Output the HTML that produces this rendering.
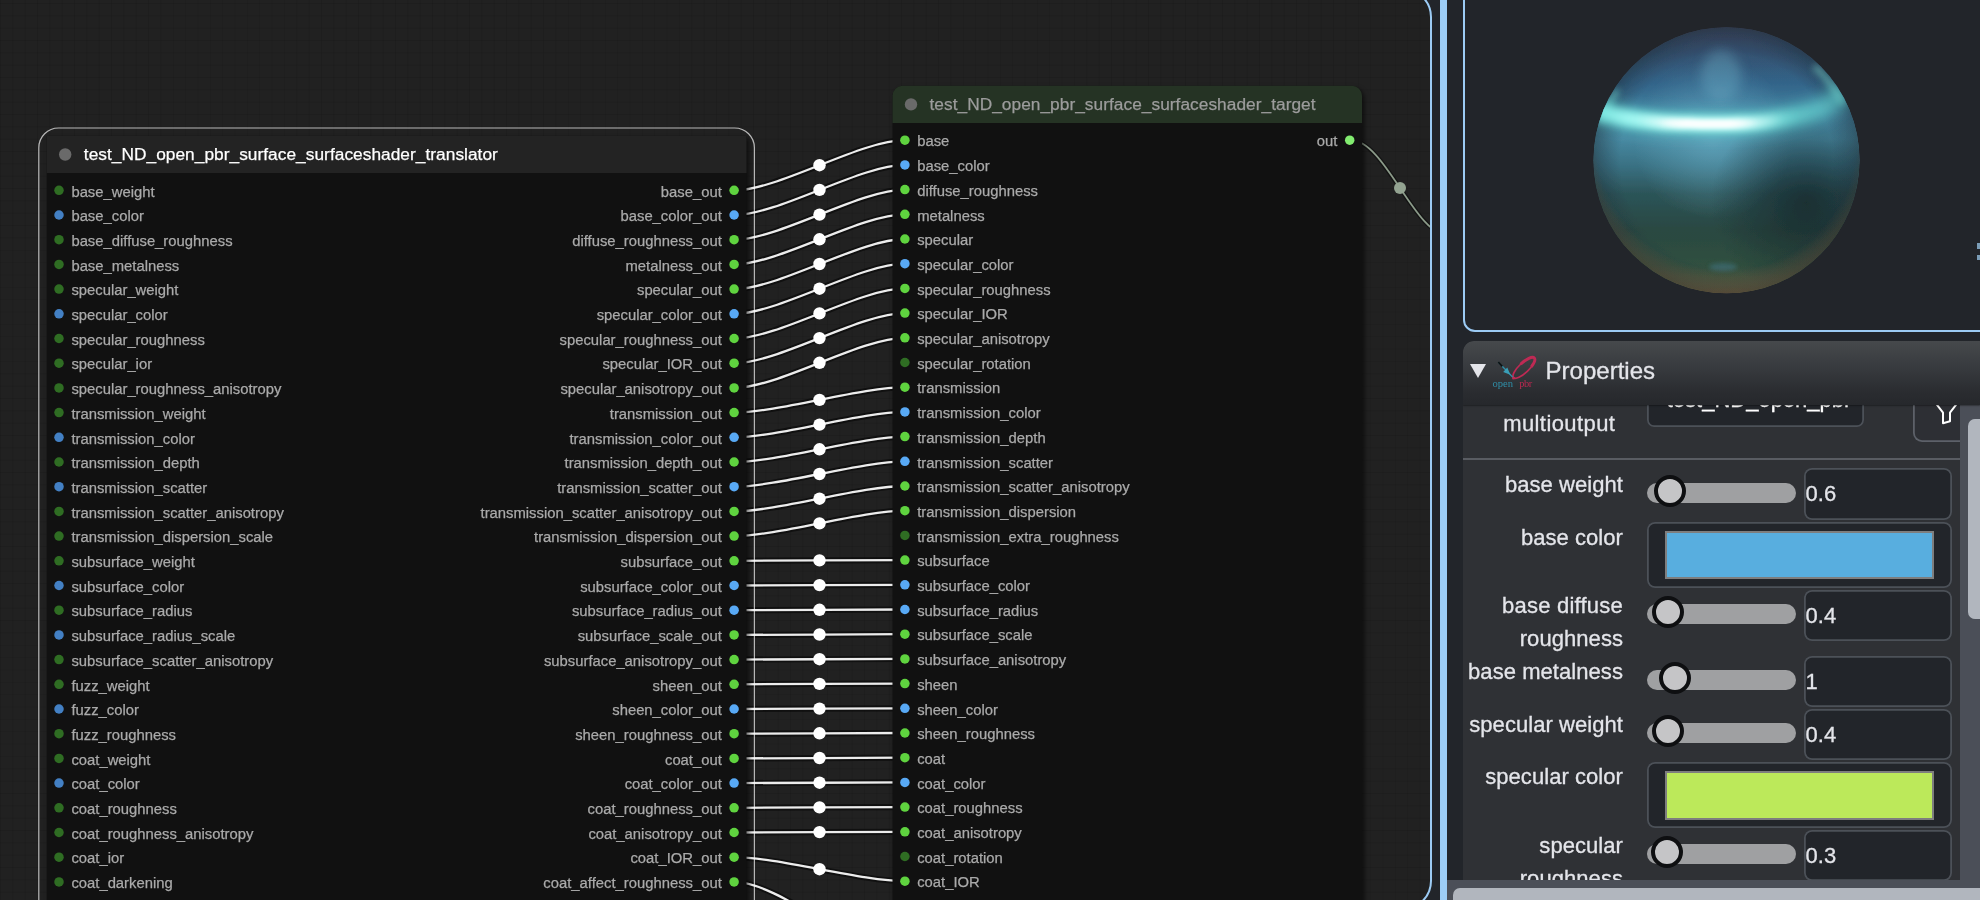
<!DOCTYPE html>
<html>
<head>
<meta charset="utf-8">
<title>Node graph</title>
<style>
html,body{margin:0;padding:0;}
body{width:1980px;height:900px;overflow:hidden;background:#22252a;font-family:"Liberation Sans",sans-serif;position:relative;color:#e4e5ea;}
*{box-sizing:border-box;}
#canvasPanel{position:absolute;left:-200px;top:-12px;width:1632px;height:922px;border:2px solid #9ccbf4;border-radius:29px;background:#212121;overflow:hidden;}
#grid{position:absolute;left:0;top:0;right:0;bottom:0;
 background-image:linear-gradient(to right,rgba(0,0,0,.085) 1px,transparent 1px),linear-gradient(to bottom,rgba(0,0,0,.085) 1px,transparent 1px);
 background-size:12.35px 12.35px;background-position:0.5px 0.6px;}
#graph{position:absolute;left:198px;top:10px;filter:blur(.55px);width:1432px;height:900px;font-family:"Liberation Sans",sans-serif;}
#splitter{position:absolute;left:1440px;top:0;width:7px;height:900px;background:#9ccdf6;}
#preview{position:absolute;left:1463px;top:-20px;width:600px;height:352px;border:2px solid #9ccbf4;border-radius:12px;background:#22252a;}
#props{-webkit-text-stroke:.3px;will-change:transform;position:absolute;left:1463px;top:341px;width:517px;height:539px;background:#2f3135;border-radius:11px 0 0 0;overflow:hidden;}
#phead{position:absolute;left:0;top:0;width:100%;height:63.6px;background:linear-gradient(#46494c,#383b3f 40%,#2a2c30 80%,#26282c);z-index:3;border-radius:11px 0 0 0;box-shadow:0 0.5px 1.5px rgba(0,0,0,.35);}
#phead .tri{position:absolute;left:7.2px;top:23.2px;width:0;height:0;border-left:8px solid transparent;border-right:8px solid transparent;border-top:14px solid #e4e5ea;}
#phead .ttl{position:absolute;left:82.6px;top:15.8px;font-size:24px;line-height:28px;color:#e4e5ea;letter-spacing:0px;}
#pbody{position:absolute;left:0;top:62px;width:497px;height:477px;overflow:hidden;}
#vscroll{position:absolute;left:497px;top:62px;width:20px;height:477px;background:#4b4f58;}
#vscroll i{position:absolute;left:8px;top:16px;width:20px;height:200px;border-radius:7px;background:#b1b6be;}
#hscroll{position:absolute;left:1447px;top:880px;width:533px;height:20px;background:#4b4f58;}
#hscroll i{position:absolute;left:6px;top:8px;width:600px;height:20px;border-radius:7px;background:#b1b6be;}
.lab{position:absolute;right:337px;text-align:right;font-size:22px;line-height:33px;color:#e4e5ea;white-space:nowrap;letter-spacing:.06px;}
.num{position:absolute;left:341px;width:147.7px;height:51.3px;box-shadow:inset 0 0 0 1.8px #4c5158;border-radius:8px;background:#22252a;font-size:22px;line-height:52.4px;padding-left:1.6px;color:#e4e5ea;}
.trk{position:absolute;left:183.5px;width:149.5px;height:20px;border-radius:10px;background:#9fa0a2;}
.thm{position:absolute;width:32px;height:32px;border-radius:50%;background:#c5c5c7;border:4.3px solid #0e0f11;}
.cbox{position:absolute;left:184px;width:304.7px;height:66.2px;box-shadow:inset 0 0 0 1.8px #4c5158;border-radius:8px;background:#22252a;}
.cbox i{position:absolute;left:17.8px;top:9.2px;width:269.7px;height:48.3px;background:#7e7e7e;}
.cbox b{position:absolute;left:2px;top:2px;right:2px;bottom:2px;}
</style>
</head>
<body>
<div id="canvasPanel">
 <div id="grid"></div>
 <svg id="graph" viewBox="0 0 1432 900">
  <defs>
   <filter id="sh" x="-5%" y="-5%" width="110%" height="110%" color-interpolation-filters="sRGB"><feDropShadow dx="2.5" dy="2.5" stdDeviation="2.2" flood-color="#000" flood-opacity=".55"/></filter>
  </defs>
<g fill="none" stroke-linecap="butt">
<path d="M734.1 190.3C778.6 190.3 860.4 140.2 904.9 140.2M734.1 215.0C778.6 215.0 860.4 164.9 904.9 164.9M734.1 239.7C778.6 239.7 860.4 189.6 904.9 189.6M734.1 264.4C778.6 264.4 860.4 214.3 904.9 214.3M734.1 289.1C778.6 289.1 860.4 239.0 904.9 239.0M734.1 313.8C778.6 313.8 860.4 263.7 904.9 263.7M734.1 338.5C778.6 338.5 860.4 288.4 904.9 288.4M734.1 363.2C778.6 363.2 860.4 313.1 904.9 313.1M734.1 387.9C778.6 387.9 860.4 337.8 904.9 337.8M734.1 412.6C777.3 412.6 861.7 387.2 904.9 387.2M734.1 437.3C777.3 437.3 861.7 411.9 904.9 411.9M734.1 462.0C777.3 462.0 861.7 436.6 904.9 436.6M734.1 486.7C777.3 486.7 861.7 461.3 904.9 461.3M734.1 511.4C777.3 511.4 861.7 486.0 904.9 486.0M734.1 536.1C777.3 536.1 861.7 510.7 904.9 510.7M734.1 560.8C776.8 560.8 862.2 560.1 904.9 560.1M734.1 585.5C776.8 585.5 862.2 584.8 904.9 584.8M734.1 610.2C776.8 610.2 862.2 609.5 904.9 609.5M734.1 634.9C776.8 634.9 862.2 634.2 904.9 634.2M734.1 659.6C776.8 659.6 862.2 658.9 904.9 658.9M734.1 684.3C776.8 684.3 862.2 683.6 904.9 683.6M734.1 709.0C776.8 709.0 862.2 708.3 904.9 708.3M734.1 733.7C776.8 733.7 862.2 733.0 904.9 733.0M734.1 758.4C776.8 758.4 862.2 757.7 904.9 757.7M734.1 783.1C776.8 783.1 862.2 782.4 904.9 782.4M734.1 807.8C776.8 807.8 862.2 807.1 904.9 807.1M734.1 832.5C776.8 832.5 862.2 831.8 904.9 831.8M734.1 857.2C777.2 857.2 861.8 881.2 904.9 881.2M734.1 881.9C780.6 881.9 858.4 955.3 904.9 955.3" stroke="#000" stroke-opacity=".5" stroke-width="6.2"/>
<path d="M734.1 190.3C778.6 190.3 860.4 140.2 904.9 140.2M734.1 215.0C778.6 215.0 860.4 164.9 904.9 164.9M734.1 239.7C778.6 239.7 860.4 189.6 904.9 189.6M734.1 264.4C778.6 264.4 860.4 214.3 904.9 214.3M734.1 289.1C778.6 289.1 860.4 239.0 904.9 239.0M734.1 313.8C778.6 313.8 860.4 263.7 904.9 263.7M734.1 338.5C778.6 338.5 860.4 288.4 904.9 288.4M734.1 363.2C778.6 363.2 860.4 313.1 904.9 313.1M734.1 387.9C778.6 387.9 860.4 337.8 904.9 337.8M734.1 412.6C777.3 412.6 861.7 387.2 904.9 387.2M734.1 437.3C777.3 437.3 861.7 411.9 904.9 411.9M734.1 462.0C777.3 462.0 861.7 436.6 904.9 436.6M734.1 486.7C777.3 486.7 861.7 461.3 904.9 461.3M734.1 511.4C777.3 511.4 861.7 486.0 904.9 486.0M734.1 536.1C777.3 536.1 861.7 510.7 904.9 510.7M734.1 560.8C776.8 560.8 862.2 560.1 904.9 560.1M734.1 585.5C776.8 585.5 862.2 584.8 904.9 584.8M734.1 610.2C776.8 610.2 862.2 609.5 904.9 609.5M734.1 634.9C776.8 634.9 862.2 634.2 904.9 634.2M734.1 659.6C776.8 659.6 862.2 658.9 904.9 658.9M734.1 684.3C776.8 684.3 862.2 683.6 904.9 683.6M734.1 709.0C776.8 709.0 862.2 708.3 904.9 708.3M734.1 733.7C776.8 733.7 862.2 733.0 904.9 733.0M734.1 758.4C776.8 758.4 862.2 757.7 904.9 757.7M734.1 783.1C776.8 783.1 862.2 782.4 904.9 782.4M734.1 807.8C776.8 807.8 862.2 807.1 904.9 807.1M734.1 832.5C776.8 832.5 862.2 831.8 904.9 831.8M734.1 857.2C777.2 857.2 861.8 881.2 904.9 881.2M734.1 881.9C780.6 881.9 858.4 955.3 904.9 955.3" stroke="#ececec" stroke-width="2.3"/>
</g>
<circle cx="819.5" cy="165.2" r="6.2" fill="#fff"/>
<circle cx="819.5" cy="189.9" r="6.2" fill="#fff"/>
<circle cx="819.5" cy="214.6" r="6.2" fill="#fff"/>
<circle cx="819.5" cy="239.3" r="6.2" fill="#fff"/>
<circle cx="819.5" cy="264.0" r="6.2" fill="#fff"/>
<circle cx="819.5" cy="288.7" r="6.2" fill="#fff"/>
<circle cx="819.5" cy="313.4" r="6.2" fill="#fff"/>
<circle cx="819.5" cy="338.1" r="6.2" fill="#fff"/>
<circle cx="819.5" cy="362.8" r="6.2" fill="#fff"/>
<circle cx="819.5" cy="399.9" r="6.2" fill="#fff"/>
<circle cx="819.5" cy="424.6" r="6.2" fill="#fff"/>
<circle cx="819.5" cy="449.3" r="6.2" fill="#fff"/>
<circle cx="819.5" cy="474.0" r="6.2" fill="#fff"/>
<circle cx="819.5" cy="498.7" r="6.2" fill="#fff"/>
<circle cx="819.5" cy="523.4" r="6.2" fill="#fff"/>
<circle cx="819.5" cy="560.4" r="6.2" fill="#fff"/>
<circle cx="819.5" cy="585.1" r="6.2" fill="#fff"/>
<circle cx="819.5" cy="609.8" r="6.2" fill="#fff"/>
<circle cx="819.5" cy="634.5" r="6.2" fill="#fff"/>
<circle cx="819.5" cy="659.2" r="6.2" fill="#fff"/>
<circle cx="819.5" cy="683.9" r="6.2" fill="#fff"/>
<circle cx="819.5" cy="708.6" r="6.2" fill="#fff"/>
<circle cx="819.5" cy="733.3" r="6.2" fill="#fff"/>
<circle cx="819.5" cy="758.0" r="6.2" fill="#fff"/>
<circle cx="819.5" cy="782.7" r="6.2" fill="#fff"/>
<circle cx="819.5" cy="807.4" r="6.2" fill="#fff"/>
<circle cx="819.5" cy="832.1" r="6.2" fill="#fff"/>
<circle cx="819.5" cy="869.2" r="6.2" fill="#fff"/>
<circle cx="819.5" cy="918.6" r="6.2" fill="#fff"/>
<path d="M1350.9 140.2C1385.2 140.2 1414.8 235.8 1449.1 235.8" fill="none" stroke="#000" stroke-opacity=".4" stroke-width="4.5"/>
<path d="M1350.9 140.2C1385.2 140.2 1414.8 235.8 1449.1 235.8" fill="none" stroke="#8b9a89" stroke-width="1.7"/>
<circle cx="1400" cy="188" r="6" fill="#93a391"/>
<g filter="url(#sh)">
<rect x="46.7" y="135.95" width="699.8" height="1000" fill="#111"/>
</g>
<rect x="46.7" y="135.95" width="699.8" height="37.05" fill="#232323"/>
<circle cx="65.2" cy="154.5" r="6.2" fill="#6a6a6a"/>
<text x="83.8" y="159.8" font-size="17.29" fill="#fff" stroke="#fff" stroke-width=".25" letter-spacing=".04">test_ND_open_pbr_surface_surfaceshader_translator</text>
<circle cx="59.0" cy="190.3" r="4.75" fill="#2f6d23"/>
<text x="71.4" y="196.5" font-size="14.82" fill="#aaa" stroke="#aaa" stroke-width=".25">base_weight</text>
<circle cx="59.0" cy="215.0" r="4.75" fill="#4380c4"/>
<text x="71.4" y="221.2" font-size="14.82" fill="#aaa" stroke="#aaa" stroke-width=".25">base_color</text>
<circle cx="59.0" cy="239.7" r="4.75" fill="#2f6d23"/>
<text x="71.4" y="245.9" font-size="14.82" fill="#aaa" stroke="#aaa" stroke-width=".25">base_diffuse_roughness</text>
<circle cx="59.0" cy="264.4" r="4.75" fill="#2f6d23"/>
<text x="71.4" y="270.6" font-size="14.82" fill="#aaa" stroke="#aaa" stroke-width=".25">base_metalness</text>
<circle cx="59.0" cy="289.1" r="4.75" fill="#2f6d23"/>
<text x="71.4" y="295.3" font-size="14.82" fill="#aaa" stroke="#aaa" stroke-width=".25">specular_weight</text>
<circle cx="59.0" cy="313.8" r="4.75" fill="#4380c4"/>
<text x="71.4" y="320.0" font-size="14.82" fill="#aaa" stroke="#aaa" stroke-width=".25">specular_color</text>
<circle cx="59.0" cy="338.5" r="4.75" fill="#2f6d23"/>
<text x="71.4" y="344.7" font-size="14.82" fill="#aaa" stroke="#aaa" stroke-width=".25">specular_roughness</text>
<circle cx="59.0" cy="363.2" r="4.75" fill="#2f6d23"/>
<text x="71.4" y="369.4" font-size="14.82" fill="#aaa" stroke="#aaa" stroke-width=".25">specular_ior</text>
<circle cx="59.0" cy="387.9" r="4.75" fill="#2f6d23"/>
<text x="71.4" y="394.1" font-size="14.82" fill="#aaa" stroke="#aaa" stroke-width=".25">specular_roughness_anisotropy</text>
<circle cx="59.0" cy="412.6" r="4.75" fill="#2f6d23"/>
<text x="71.4" y="418.8" font-size="14.82" fill="#aaa" stroke="#aaa" stroke-width=".25">transmission_weight</text>
<circle cx="59.0" cy="437.3" r="4.75" fill="#4380c4"/>
<text x="71.4" y="443.5" font-size="14.82" fill="#aaa" stroke="#aaa" stroke-width=".25">transmission_color</text>
<circle cx="59.0" cy="462.0" r="4.75" fill="#2f6d23"/>
<text x="71.4" y="468.2" font-size="14.82" fill="#aaa" stroke="#aaa" stroke-width=".25">transmission_depth</text>
<circle cx="59.0" cy="486.7" r="4.75" fill="#4380c4"/>
<text x="71.4" y="492.9" font-size="14.82" fill="#aaa" stroke="#aaa" stroke-width=".25">transmission_scatter</text>
<circle cx="59.0" cy="511.4" r="4.75" fill="#2f6d23"/>
<text x="71.4" y="517.6" font-size="14.82" fill="#aaa" stroke="#aaa" stroke-width=".25">transmission_scatter_anisotropy</text>
<circle cx="59.0" cy="536.1" r="4.75" fill="#2f6d23"/>
<text x="71.4" y="542.3" font-size="14.82" fill="#aaa" stroke="#aaa" stroke-width=".25">transmission_dispersion_scale</text>
<circle cx="59.0" cy="560.8" r="4.75" fill="#2f6d23"/>
<text x="71.4" y="567.0" font-size="14.82" fill="#aaa" stroke="#aaa" stroke-width=".25">subsurface_weight</text>
<circle cx="59.0" cy="585.5" r="4.75" fill="#4380c4"/>
<text x="71.4" y="591.7" font-size="14.82" fill="#aaa" stroke="#aaa" stroke-width=".25">subsurface_color</text>
<circle cx="59.0" cy="610.2" r="4.75" fill="#2f6d23"/>
<text x="71.4" y="616.4" font-size="14.82" fill="#aaa" stroke="#aaa" stroke-width=".25">subsurface_radius</text>
<circle cx="59.0" cy="634.9" r="4.75" fill="#4380c4"/>
<text x="71.4" y="641.1" font-size="14.82" fill="#aaa" stroke="#aaa" stroke-width=".25">subsurface_radius_scale</text>
<circle cx="59.0" cy="659.6" r="4.75" fill="#2f6d23"/>
<text x="71.4" y="665.8" font-size="14.82" fill="#aaa" stroke="#aaa" stroke-width=".25">subsurface_scatter_anisotropy</text>
<circle cx="59.0" cy="684.3" r="4.75" fill="#2f6d23"/>
<text x="71.4" y="690.5" font-size="14.82" fill="#aaa" stroke="#aaa" stroke-width=".25">fuzz_weight</text>
<circle cx="59.0" cy="709.0" r="4.75" fill="#4380c4"/>
<text x="71.4" y="715.2" font-size="14.82" fill="#aaa" stroke="#aaa" stroke-width=".25">fuzz_color</text>
<circle cx="59.0" cy="733.7" r="4.75" fill="#2f6d23"/>
<text x="71.4" y="739.9" font-size="14.82" fill="#aaa" stroke="#aaa" stroke-width=".25">fuzz_roughness</text>
<circle cx="59.0" cy="758.4" r="4.75" fill="#2f6d23"/>
<text x="71.4" y="764.6" font-size="14.82" fill="#aaa" stroke="#aaa" stroke-width=".25">coat_weight</text>
<circle cx="59.0" cy="783.1" r="4.75" fill="#4380c4"/>
<text x="71.4" y="789.3" font-size="14.82" fill="#aaa" stroke="#aaa" stroke-width=".25">coat_color</text>
<circle cx="59.0" cy="807.8" r="4.75" fill="#2f6d23"/>
<text x="71.4" y="814.0" font-size="14.82" fill="#aaa" stroke="#aaa" stroke-width=".25">coat_roughness</text>
<circle cx="59.0" cy="832.5" r="4.75" fill="#2f6d23"/>
<text x="71.4" y="838.7" font-size="14.82" fill="#aaa" stroke="#aaa" stroke-width=".25">coat_roughness_anisotropy</text>
<circle cx="59.0" cy="857.2" r="4.75" fill="#2f6d23"/>
<text x="71.4" y="863.4" font-size="14.82" fill="#aaa" stroke="#aaa" stroke-width=".25">coat_ior</text>
<circle cx="59.0" cy="881.9" r="4.75" fill="#2f6d23"/>
<text x="71.4" y="888.1" font-size="14.82" fill="#aaa" stroke="#aaa" stroke-width=".25">coat_darkening</text>
<circle cx="59.0" cy="906.6" r="4.75" fill="#2f6d23"/>
<text x="71.4" y="912.8" font-size="14.82" fill="#aaa" stroke="#aaa" stroke-width=".25">coat_x</text>
<circle cx="734.1" cy="190.3" r="4.75" fill="#5fd33f"/>
<text x="721.8" y="196.5" font-size="14.82" fill="#aaa" stroke="#aaa" stroke-width=".25" text-anchor="end">base_out</text>
<circle cx="734.1" cy="215.0" r="4.75" fill="#58a9f5"/>
<text x="721.8" y="221.2" font-size="14.82" fill="#aaa" stroke="#aaa" stroke-width=".25" text-anchor="end">base_color_out</text>
<circle cx="734.1" cy="239.7" r="4.75" fill="#5fd33f"/>
<text x="721.8" y="245.9" font-size="14.82" fill="#aaa" stroke="#aaa" stroke-width=".25" text-anchor="end">diffuse_roughness_out</text>
<circle cx="734.1" cy="264.4" r="4.75" fill="#5fd33f"/>
<text x="721.8" y="270.6" font-size="14.82" fill="#aaa" stroke="#aaa" stroke-width=".25" text-anchor="end">metalness_out</text>
<circle cx="734.1" cy="289.1" r="4.75" fill="#5fd33f"/>
<text x="721.8" y="295.3" font-size="14.82" fill="#aaa" stroke="#aaa" stroke-width=".25" text-anchor="end">specular_out</text>
<circle cx="734.1" cy="313.8" r="4.75" fill="#58a9f5"/>
<text x="721.8" y="320.0" font-size="14.82" fill="#aaa" stroke="#aaa" stroke-width=".25" text-anchor="end">specular_color_out</text>
<circle cx="734.1" cy="338.5" r="4.75" fill="#5fd33f"/>
<text x="721.8" y="344.7" font-size="14.82" fill="#aaa" stroke="#aaa" stroke-width=".25" text-anchor="end">specular_roughness_out</text>
<circle cx="734.1" cy="363.2" r="4.75" fill="#5fd33f"/>
<text x="721.8" y="369.4" font-size="14.82" fill="#aaa" stroke="#aaa" stroke-width=".25" text-anchor="end">specular_IOR_out</text>
<circle cx="734.1" cy="387.9" r="4.75" fill="#5fd33f"/>
<text x="721.8" y="394.1" font-size="14.82" fill="#aaa" stroke="#aaa" stroke-width=".25" text-anchor="end">specular_anisotropy_out</text>
<circle cx="734.1" cy="412.6" r="4.75" fill="#5fd33f"/>
<text x="721.8" y="418.8" font-size="14.82" fill="#aaa" stroke="#aaa" stroke-width=".25" text-anchor="end">transmission_out</text>
<circle cx="734.1" cy="437.3" r="4.75" fill="#58a9f5"/>
<text x="721.8" y="443.5" font-size="14.82" fill="#aaa" stroke="#aaa" stroke-width=".25" text-anchor="end">transmission_color_out</text>
<circle cx="734.1" cy="462.0" r="4.75" fill="#5fd33f"/>
<text x="721.8" y="468.2" font-size="14.82" fill="#aaa" stroke="#aaa" stroke-width=".25" text-anchor="end">transmission_depth_out</text>
<circle cx="734.1" cy="486.7" r="4.75" fill="#58a9f5"/>
<text x="721.8" y="492.9" font-size="14.82" fill="#aaa" stroke="#aaa" stroke-width=".25" text-anchor="end">transmission_scatter_out</text>
<circle cx="734.1" cy="511.4" r="4.75" fill="#5fd33f"/>
<text x="721.8" y="517.6" font-size="14.82" fill="#aaa" stroke="#aaa" stroke-width=".25" text-anchor="end">transmission_scatter_anisotropy_out</text>
<circle cx="734.1" cy="536.1" r="4.75" fill="#5fd33f"/>
<text x="721.8" y="542.3" font-size="14.82" fill="#aaa" stroke="#aaa" stroke-width=".25" text-anchor="end">transmission_dispersion_out</text>
<circle cx="734.1" cy="560.8" r="4.75" fill="#5fd33f"/>
<text x="721.8" y="567.0" font-size="14.82" fill="#aaa" stroke="#aaa" stroke-width=".25" text-anchor="end">subsurface_out</text>
<circle cx="734.1" cy="585.5" r="4.75" fill="#58a9f5"/>
<text x="721.8" y="591.7" font-size="14.82" fill="#aaa" stroke="#aaa" stroke-width=".25" text-anchor="end">subsurface_color_out</text>
<circle cx="734.1" cy="610.2" r="4.75" fill="#58a9f5"/>
<text x="721.8" y="616.4" font-size="14.82" fill="#aaa" stroke="#aaa" stroke-width=".25" text-anchor="end">subsurface_radius_out</text>
<circle cx="734.1" cy="634.9" r="4.75" fill="#5fd33f"/>
<text x="721.8" y="641.1" font-size="14.82" fill="#aaa" stroke="#aaa" stroke-width=".25" text-anchor="end">subsurface_scale_out</text>
<circle cx="734.1" cy="659.6" r="4.75" fill="#5fd33f"/>
<text x="721.8" y="665.8" font-size="14.82" fill="#aaa" stroke="#aaa" stroke-width=".25" text-anchor="end">subsurface_anisotropy_out</text>
<circle cx="734.1" cy="684.3" r="4.75" fill="#5fd33f"/>
<text x="721.8" y="690.5" font-size="14.82" fill="#aaa" stroke="#aaa" stroke-width=".25" text-anchor="end">sheen_out</text>
<circle cx="734.1" cy="709.0" r="4.75" fill="#58a9f5"/>
<text x="721.8" y="715.2" font-size="14.82" fill="#aaa" stroke="#aaa" stroke-width=".25" text-anchor="end">sheen_color_out</text>
<circle cx="734.1" cy="733.7" r="4.75" fill="#5fd33f"/>
<text x="721.8" y="739.9" font-size="14.82" fill="#aaa" stroke="#aaa" stroke-width=".25" text-anchor="end">sheen_roughness_out</text>
<circle cx="734.1" cy="758.4" r="4.75" fill="#5fd33f"/>
<text x="721.8" y="764.6" font-size="14.82" fill="#aaa" stroke="#aaa" stroke-width=".25" text-anchor="end">coat_out</text>
<circle cx="734.1" cy="783.1" r="4.75" fill="#58a9f5"/>
<text x="721.8" y="789.3" font-size="14.82" fill="#aaa" stroke="#aaa" stroke-width=".25" text-anchor="end">coat_color_out</text>
<circle cx="734.1" cy="807.8" r="4.75" fill="#5fd33f"/>
<text x="721.8" y="814.0" font-size="14.82" fill="#aaa" stroke="#aaa" stroke-width=".25" text-anchor="end">coat_roughness_out</text>
<circle cx="734.1" cy="832.5" r="4.75" fill="#5fd33f"/>
<text x="721.8" y="838.7" font-size="14.82" fill="#aaa" stroke="#aaa" stroke-width=".25" text-anchor="end">coat_anisotropy_out</text>
<circle cx="734.1" cy="857.2" r="4.75" fill="#5fd33f"/>
<text x="721.8" y="863.4" font-size="14.82" fill="#aaa" stroke="#aaa" stroke-width=".25" text-anchor="end">coat_IOR_out</text>
<circle cx="734.1" cy="881.9" r="4.75" fill="#5fd33f"/>
<text x="721.8" y="888.1" font-size="14.82" fill="#aaa" stroke="#aaa" stroke-width=".25" text-anchor="end">coat_affect_roughness_out</text>
<circle cx="734.1" cy="906.6" r="4.75" fill="#5fd33f"/>
<text x="721.8" y="912.8" font-size="14.82" fill="#aaa" stroke="#aaa" stroke-width=".25" text-anchor="end">coat_x_out</text>
<rect x="38.8" y="128.0" width="715.6" height="1000" rx="19.8" fill="none" stroke="#fff" stroke-opacity=".68" stroke-width="1.23"/>
<g filter="url(#sh)">
<path d="M892.5 1122.9V95.73a9.879999999999999 9.879999999999999 0 0 1 9.879999999999999 -9.879999999999999H1352.12a9.879999999999999 9.879999999999999 0 0 1 9.879999999999999 9.879999999999999V1122.9z" fill="#111"/>
</g>
<path d="M892.5 122.9V95.73a9.879999999999999 9.879999999999999 0 0 1 9.879999999999999 -9.879999999999999H1352.12a9.879999999999999 9.879999999999999 0 0 1 9.879999999999999 9.879999999999999V122.9z" fill="#253324"/>
<circle cx="911.0" cy="104.4" r="6.2" fill="#6a6a6a"/>
<text x="929.5" y="109.8" font-size="17.29" fill="#9c9c9c" stroke="#9c9c9c" stroke-width=".25" letter-spacing=".04">test_ND_open_pbr_surface_surfaceshader_target</text>
<circle cx="904.9" cy="140.2" r="4.75" fill="#5fd33f"/>
<text x="917.2" y="146.4" font-size="14.82" fill="#aaa" stroke="#aaa" stroke-width=".25">base</text>
<circle cx="904.9" cy="164.9" r="4.75" fill="#58a9f5"/>
<text x="917.2" y="171.1" font-size="14.82" fill="#aaa" stroke="#aaa" stroke-width=".25">base_color</text>
<circle cx="904.9" cy="189.6" r="4.75" fill="#5fd33f"/>
<text x="917.2" y="195.8" font-size="14.82" fill="#aaa" stroke="#aaa" stroke-width=".25">diffuse_roughness</text>
<circle cx="904.9" cy="214.3" r="4.75" fill="#5fd33f"/>
<text x="917.2" y="220.5" font-size="14.82" fill="#aaa" stroke="#aaa" stroke-width=".25">metalness</text>
<circle cx="904.9" cy="239.0" r="4.75" fill="#5fd33f"/>
<text x="917.2" y="245.2" font-size="14.82" fill="#aaa" stroke="#aaa" stroke-width=".25">specular</text>
<circle cx="904.9" cy="263.7" r="4.75" fill="#58a9f5"/>
<text x="917.2" y="269.9" font-size="14.82" fill="#aaa" stroke="#aaa" stroke-width=".25">specular_color</text>
<circle cx="904.9" cy="288.4" r="4.75" fill="#5fd33f"/>
<text x="917.2" y="294.6" font-size="14.82" fill="#aaa" stroke="#aaa" stroke-width=".25">specular_roughness</text>
<circle cx="904.9" cy="313.1" r="4.75" fill="#5fd33f"/>
<text x="917.2" y="319.3" font-size="14.82" fill="#aaa" stroke="#aaa" stroke-width=".25">specular_IOR</text>
<circle cx="904.9" cy="337.8" r="4.75" fill="#5fd33f"/>
<text x="917.2" y="344.0" font-size="14.82" fill="#aaa" stroke="#aaa" stroke-width=".25">specular_anisotropy</text>
<circle cx="904.9" cy="362.5" r="4.75" fill="#2f6d23"/>
<text x="917.2" y="368.7" font-size="14.82" fill="#aaa" stroke="#aaa" stroke-width=".25">specular_rotation</text>
<circle cx="904.9" cy="387.2" r="4.75" fill="#5fd33f"/>
<text x="917.2" y="393.4" font-size="14.82" fill="#aaa" stroke="#aaa" stroke-width=".25">transmission</text>
<circle cx="904.9" cy="411.9" r="4.75" fill="#58a9f5"/>
<text x="917.2" y="418.1" font-size="14.82" fill="#aaa" stroke="#aaa" stroke-width=".25">transmission_color</text>
<circle cx="904.9" cy="436.6" r="4.75" fill="#5fd33f"/>
<text x="917.2" y="442.8" font-size="14.82" fill="#aaa" stroke="#aaa" stroke-width=".25">transmission_depth</text>
<circle cx="904.9" cy="461.3" r="4.75" fill="#58a9f5"/>
<text x="917.2" y="467.5" font-size="14.82" fill="#aaa" stroke="#aaa" stroke-width=".25">transmission_scatter</text>
<circle cx="904.9" cy="486.0" r="4.75" fill="#5fd33f"/>
<text x="917.2" y="492.2" font-size="14.82" fill="#aaa" stroke="#aaa" stroke-width=".25">transmission_scatter_anisotropy</text>
<circle cx="904.9" cy="510.7" r="4.75" fill="#5fd33f"/>
<text x="917.2" y="516.9" font-size="14.82" fill="#aaa" stroke="#aaa" stroke-width=".25">transmission_dispersion</text>
<circle cx="904.9" cy="535.4" r="4.75" fill="#2f6d23"/>
<text x="917.2" y="541.6" font-size="14.82" fill="#aaa" stroke="#aaa" stroke-width=".25">transmission_extra_roughness</text>
<circle cx="904.9" cy="560.1" r="4.75" fill="#5fd33f"/>
<text x="917.2" y="566.3" font-size="14.82" fill="#aaa" stroke="#aaa" stroke-width=".25">subsurface</text>
<circle cx="904.9" cy="584.8" r="4.75" fill="#58a9f5"/>
<text x="917.2" y="591.0" font-size="14.82" fill="#aaa" stroke="#aaa" stroke-width=".25">subsurface_color</text>
<circle cx="904.9" cy="609.5" r="4.75" fill="#58a9f5"/>
<text x="917.2" y="615.7" font-size="14.82" fill="#aaa" stroke="#aaa" stroke-width=".25">subsurface_radius</text>
<circle cx="904.9" cy="634.2" r="4.75" fill="#5fd33f"/>
<text x="917.2" y="640.4" font-size="14.82" fill="#aaa" stroke="#aaa" stroke-width=".25">subsurface_scale</text>
<circle cx="904.9" cy="658.9" r="4.75" fill="#5fd33f"/>
<text x="917.2" y="665.1" font-size="14.82" fill="#aaa" stroke="#aaa" stroke-width=".25">subsurface_anisotropy</text>
<circle cx="904.9" cy="683.6" r="4.75" fill="#5fd33f"/>
<text x="917.2" y="689.8" font-size="14.82" fill="#aaa" stroke="#aaa" stroke-width=".25">sheen</text>
<circle cx="904.9" cy="708.3" r="4.75" fill="#58a9f5"/>
<text x="917.2" y="714.5" font-size="14.82" fill="#aaa" stroke="#aaa" stroke-width=".25">sheen_color</text>
<circle cx="904.9" cy="733.0" r="4.75" fill="#5fd33f"/>
<text x="917.2" y="739.2" font-size="14.82" fill="#aaa" stroke="#aaa" stroke-width=".25">sheen_roughness</text>
<circle cx="904.9" cy="757.7" r="4.75" fill="#5fd33f"/>
<text x="917.2" y="763.9" font-size="14.82" fill="#aaa" stroke="#aaa" stroke-width=".25">coat</text>
<circle cx="904.9" cy="782.4" r="4.75" fill="#58a9f5"/>
<text x="917.2" y="788.6" font-size="14.82" fill="#aaa" stroke="#aaa" stroke-width=".25">coat_color</text>
<circle cx="904.9" cy="807.1" r="4.75" fill="#5fd33f"/>
<text x="917.2" y="813.3" font-size="14.82" fill="#aaa" stroke="#aaa" stroke-width=".25">coat_roughness</text>
<circle cx="904.9" cy="831.8" r="4.75" fill="#5fd33f"/>
<text x="917.2" y="838.0" font-size="14.82" fill="#aaa" stroke="#aaa" stroke-width=".25">coat_anisotropy</text>
<circle cx="904.9" cy="856.5" r="4.75" fill="#2f6d23"/>
<text x="917.2" y="862.7" font-size="14.82" fill="#aaa" stroke="#aaa" stroke-width=".25">coat_rotation</text>
<circle cx="904.9" cy="881.2" r="4.75" fill="#5fd33f"/>
<text x="917.2" y="887.4" font-size="14.82" fill="#aaa" stroke="#aaa" stroke-width=".25">coat_IOR</text>
<circle cx="904.9" cy="905.9" r="4.75" fill="#5fd33f"/>
<text x="917.2" y="912.1" font-size="14.82" fill="#aaa" stroke="#aaa" stroke-width=".25">coat_affect_roughness</text>
<circle cx="1349.7" cy="140.2" r="4.75" fill="#82ec70"/>
<text x="1337.3" y="146.4" font-size="14.82" fill="#aaa" stroke="#aaa" stroke-width=".25" text-anchor="end">out</text>
 </svg>
</div>
<div id="splitter"></div>
<div id="preview"></div>
<svg style="position:absolute;left:1590px;top:24px" width="274" height="274" viewBox="0 0 274 274">
<defs>
<clipPath id="sc"><circle cx="136.5" cy="136.3" r="133"/></clipPath>
<linearGradient id="sb" x1="0" y1="0" x2="0" y2="1">
<stop offset="0" stop-color="#3c4560"/><stop offset=".1" stop-color="#34506f"/><stop offset=".22" stop-color="#33658a"/>
<stop offset=".32" stop-color="#417f9e"/><stop offset=".42" stop-color="#4789a2"/><stop offset=".52" stop-color="#397082"/>
<stop offset=".62" stop-color="#2c5458"/><stop offset=".75" stop-color="#2a4842"/><stop offset=".88" stop-color="#30503f"/>
<stop offset=".96" stop-color="#4d5a40"/><stop offset="1" stop-color="#6e5a3a"/></linearGradient>
<radialGradient id="sl" cx=".45" cy=".42" r=".3"><stop offset="0" stop-color="#78c0d8" stop-opacity=".48"/><stop offset="1" stop-color="#78c0d8" stop-opacity="0"/></radialGradient>
<radialGradient id="sd" cx=".8" cy=".66" r=".36"><stop offset="0" stop-color="#142428" stop-opacity=".75"/><stop offset="1" stop-color="#142428" stop-opacity="0"/></radialGradient>
<radialGradient id="sr" cx=".5" cy=".42" r=".6"><stop offset=".82" stop-color="#8a6a3a" stop-opacity="0"/><stop offset="1" stop-color="#9a7040" stop-opacity=".7"/></radialGradient>
<radialGradient id="se" cx=".5" cy=".5" r=".5"><stop offset=".8" stop-color="#203040" stop-opacity="0"/><stop offset="1" stop-color="#1c2830" stop-opacity=".45"/></radialGradient>
<linearGradient id="g1" gradientUnits="userSpaceOnUse" x1="0" y1="0" x2="272" y2="0"><stop offset="0.000" stop-color="#58c4c4" stop-opacity="0.8"/><stop offset="0.699" stop-color="#58c4c4" stop-opacity="0.75"/><stop offset="1.000" stop-color="#58c4c4" stop-opacity="0.5"/></linearGradient><linearGradient id="g2" gradientUnits="userSpaceOnUse" x1="0" y1="0" x2="272" y2="0"><stop offset="0.000" stop-color="#7ff0e8" stop-opacity="0.9"/><stop offset="0.551" stop-color="#7ff0e8" stop-opacity="0.9"/><stop offset="0.790" stop-color="#7ff0e8" stop-opacity="0.3"/><stop offset="0.963" stop-color="#7ff0e8" stop-opacity="0"/></linearGradient><linearGradient id="g3" gradientUnits="userSpaceOnUse" x1="0" y1="0" x2="272" y2="0"><stop offset="0.029" stop-color="#b4fff9" stop-opacity="0"/><stop offset="0.147" stop-color="#b4fff9" stop-opacity="0.9"/><stop offset="0.551" stop-color="#b4fff9" stop-opacity="0.9"/><stop offset="0.754" stop-color="#b4fff9" stop-opacity="0"/></linearGradient><linearGradient id="g4" gradientUnits="userSpaceOnUse" x1="0" y1="0" x2="272" y2="0"><stop offset="0.165" stop-color="#fff" stop-opacity="0"/><stop offset="0.301" stop-color="#fff" stop-opacity="1"/><stop offset="0.533" stop-color="#fff" stop-opacity="1"/><stop offset="0.706" stop-color="#fff" stop-opacity="0"/></linearGradient><linearGradient id="g5" gradientUnits="userSpaceOnUse" x1="0" y1="0" x2="272" y2="0"><stop offset="0.250" stop-color="#fff" stop-opacity="0"/><stop offset="0.349" stop-color="#fff" stop-opacity="1"/><stop offset="0.515" stop-color="#fff" stop-opacity="1"/><stop offset="0.618" stop-color="#fff" stop-opacity="0"/></linearGradient>
<filter id="b7" filterUnits="userSpaceOnUse" x="-30" y="-30" width="340" height="340"><feGaussianBlur stdDeviation="7"/></filter><filter id="b5" filterUnits="userSpaceOnUse" x="-30" y="-30" width="340" height="340"><feGaussianBlur stdDeviation="5"/></filter><filter id="b35" filterUnits="userSpaceOnUse" x="-30" y="-30" width="340" height="340"><feGaussianBlur stdDeviation="3.5"/></filter><filter id="b2" filterUnits="userSpaceOnUse" x="-30" y="-30" width="340" height="340"><feGaussianBlur stdDeviation="2.2"/></filter>
<filter id="b3" x="-50%" y="-50%" width="200%" height="200%"><feGaussianBlur stdDeviation="6"/></filter>
<filter id="be"><feGaussianBlur stdDeviation=".7"/></filter>
</defs>
<g filter="url(#be)"><g clip-path="url(#sc)">
<rect x="0" y="0" width="274" height="274" fill="url(#sb)"/>
<circle cx="136.5" cy="136.3" r="133" fill="url(#sl)"/>
<circle cx="136.5" cy="136.3" r="133" fill="url(#sd)"/>
<circle cx="136.5" cy="136.3" r="133" fill="url(#sr)"/>
<circle cx="136.5" cy="136.3" r="133" fill="url(#se)"/>
<ellipse cx="131" cy="52" rx="20" ry="26" fill="#6fb0c8" opacity=".38" filter="url(#b3)"/>
<ellipse cx="133" cy="243" rx="14" ry="4" fill="#4f8fb8" opacity=".32" filter="url(#b2)"/>
<path d="M12.2 98.3A130 130 0 0 1 27.5 65.5" fill="none" stroke="#6fd8d0" stroke-width="5" filter="url(#b35)" opacity=".7"/>
<path d="M224.5 42.0A129 129 0 0 1 252.4 79.8" fill="none" stroke="#7fe0d4" stroke-width="6" filter="url(#b35)" opacity=".55"/>
<path d="M-6.0 80.0L-4.7 80.5L-3.1 81.2L-1.2 82.1L0.9 83.0L3.2 84.0L5.6 85.0L8.1 86.1L10.5 87.0L12.8 87.9L15.0 88.7L17.0 89.4L18.9 90.0L20.7 90.6L22.6 91.1L24.4 91.6L26.3 92.1L28.3 92.6L30.5 93.1L32.9 93.5L35.6 94.0L38.5 94.5L41.7 95.0L45.1 95.5L48.7 96.0L52.4 96.4L56.1 96.9L59.9 97.3L63.7 97.7L67.4 98.1L71.0 98.4L74.6 98.7L78.2 98.9L81.9 99.1L85.6 99.2L89.3 99.4L92.9 99.5L96.5 99.6L100.0 99.6L103.4 99.7L106.7 99.8L109.8 99.9L112.7 99.9L115.5 100.0L118.2 100.1L120.9 100.1L123.5 100.1L126.2 100.1L129.0 100.1L131.9 100.1L135.0 100.0L138.3 99.9L141.7 99.8L145.1 99.7L148.7 99.6L152.4 99.5L156.0 99.3L159.7 99.1L163.4 98.9L167.0 98.6L170.6 98.2L174.2 97.8L177.8 97.3L181.5 96.7L185.2 96.1L188.8 95.5L192.5 94.8L196.0 94.1L199.5 93.4L202.8 92.7L206.0 92.0L209.1 91.3L212.1 90.5L215.1 89.8L218.0 89.0L220.8 88.2L223.5 87.4L226.0 86.5L228.4 85.7L230.7 84.8L232.8 84.0L234.7 83.2L236.3 82.3L237.8 81.5L239.1 80.7L240.3 79.8L241.5 78.9L242.6 78.0L243.7 77.1L244.8 76.1L246.0 75.0L247.3 73.8L248.7 72.4L250.1 71.0L251.5 69.5L252.8 67.9L254.1 66.5L255.3 65.1L256.4 63.8L257.3 62.8L258.0 62.0" fill="none" stroke="url(#g1)" stroke-width="22" filter="url(#b7)"/>
<path d="M-6.0 80.0L-4.7 80.5L-3.1 81.2L-1.2 82.1L0.9 83.0L3.2 84.0L5.6 85.0L8.1 86.1L10.5 87.0L12.8 87.9L15.0 88.7L17.0 89.4L18.9 90.0L20.7 90.6L22.6 91.1L24.4 91.6L26.3 92.1L28.3 92.6L30.5 93.1L32.9 93.5L35.6 94.0L38.5 94.5L41.7 95.0L45.1 95.5L48.7 96.0L52.4 96.4L56.1 96.9L59.9 97.3L63.7 97.7L67.4 98.1L71.0 98.4L74.6 98.7L78.2 98.9L81.9 99.1L85.6 99.2L89.3 99.4L92.9 99.5L96.5 99.6L100.0 99.6L103.4 99.7L106.7 99.8L109.8 99.9L112.7 99.9L115.5 100.0L118.2 100.1L120.9 100.1L123.5 100.1L126.2 100.1L129.0 100.1L131.9 100.1L135.0 100.0L138.3 99.9L141.7 99.8L145.1 99.7L148.7 99.6L152.4 99.5L156.0 99.3L159.7 99.1L163.4 98.9L167.0 98.6L170.6 98.2L174.2 97.8L177.8 97.3L181.5 96.7L185.2 96.1L188.8 95.5L192.5 94.8L196.0 94.1L199.5 93.4L202.8 92.7L206.0 92.0L209.1 91.3L212.1 90.5L215.1 89.8L218.0 89.0L220.8 88.2L223.5 87.4L226.0 86.5L228.4 85.7L230.7 84.8L232.8 84.0L234.7 83.2L236.3 82.3L237.8 81.5L239.1 80.7L240.3 79.8L241.5 78.9L242.6 78.0L243.7 77.1L244.8 76.1L246.0 75.0L247.3 73.8L248.7 72.4L250.1 71.0L251.5 69.5L252.8 67.9L254.1 66.5L255.3 65.1L256.4 63.8L257.3 62.8L258.0 62.0" fill="none" stroke="url(#g2)" stroke-width="13" filter="url(#b5)"/>
<path d="M-6.0 80.0L-4.7 80.5L-3.1 81.2L-1.2 82.1L0.9 83.0L3.2 84.0L5.6 85.0L8.1 86.1L10.5 87.0L12.8 87.9L15.0 88.7L17.0 89.4L18.9 90.0L20.7 90.6L22.6 91.1L24.4 91.6L26.3 92.1L28.3 92.6L30.5 93.1L32.9 93.5L35.6 94.0L38.5 94.5L41.7 95.0L45.1 95.5L48.7 96.0L52.4 96.4L56.1 96.9L59.9 97.3L63.7 97.7L67.4 98.1L71.0 98.4L74.6 98.7L78.2 98.9L81.9 99.1L85.6 99.2L89.3 99.4L92.9 99.5L96.5 99.6L100.0 99.6L103.4 99.7L106.7 99.8L109.8 99.9L112.7 99.9L115.5 100.0L118.2 100.1L120.9 100.1L123.5 100.1L126.2 100.1L129.0 100.1L131.9 100.1L135.0 100.0L138.3 99.9L141.7 99.8L145.1 99.7L148.7 99.6L152.4 99.5L156.0 99.3L159.7 99.1L163.4 98.9L167.0 98.6L170.6 98.2L174.2 97.8L177.8 97.3L181.5 96.7L185.2 96.1L188.8 95.5L192.5 94.8L196.0 94.1L199.5 93.4L202.8 92.7L206.0 92.0L209.1 91.3L212.1 90.5L215.1 89.8L218.0 89.0L220.8 88.2L223.5 87.4L226.0 86.5L228.4 85.7L230.7 84.8L232.8 84.0L234.7 83.2L236.3 82.3L237.8 81.5L239.1 80.7L240.3 79.8L241.5 78.9L242.6 78.0L243.7 77.1L244.8 76.1L246.0 75.0L247.3 73.8L248.7 72.4L250.1 71.0L251.5 69.5L252.8 67.9L254.1 66.5L255.3 65.1L256.4 63.8L257.3 62.8L258.0 62.0" fill="none" stroke="url(#g3)" stroke-width="10" filter="url(#b5)"/>
<path d="M-6.0 80.0L-4.7 80.5L-3.1 81.2L-1.2 82.1L0.9 83.0L3.2 84.0L5.6 85.0L8.1 86.1L10.5 87.0L12.8 87.9L15.0 88.7L17.0 89.4L18.9 90.0L20.7 90.6L22.6 91.1L24.4 91.6L26.3 92.1L28.3 92.6L30.5 93.1L32.9 93.5L35.6 94.0L38.5 94.5L41.7 95.0L45.1 95.5L48.7 96.0L52.4 96.4L56.1 96.9L59.9 97.3L63.7 97.7L67.4 98.1L71.0 98.4L74.6 98.7L78.2 98.9L81.9 99.1L85.6 99.2L89.3 99.4L92.9 99.5L96.5 99.6L100.0 99.6L103.4 99.7L106.7 99.8L109.8 99.9L112.7 99.9L115.5 100.0L118.2 100.1L120.9 100.1L123.5 100.1L126.2 100.1L129.0 100.1L131.9 100.1L135.0 100.0L138.3 99.9L141.7 99.8L145.1 99.7L148.7 99.6L152.4 99.5L156.0 99.3L159.7 99.1L163.4 98.9L167.0 98.6L170.6 98.2L174.2 97.8L177.8 97.3L181.5 96.7L185.2 96.1L188.8 95.5L192.5 94.8L196.0 94.1L199.5 93.4L202.8 92.7L206.0 92.0L209.1 91.3L212.1 90.5L215.1 89.8L218.0 89.0L220.8 88.2L223.5 87.4L226.0 86.5L228.4 85.7L230.7 84.8L232.8 84.0L234.7 83.2L236.3 82.3L237.8 81.5L239.1 80.7L240.3 79.8L241.5 78.9L242.6 78.0L243.7 77.1L244.8 76.1L246.0 75.0L247.3 73.8L248.7 72.4L250.1 71.0L251.5 69.5L252.8 67.9L254.1 66.5L255.3 65.1L256.4 63.8L257.3 62.8L258.0 62.0" fill="none" stroke="url(#g4)" stroke-width="8" filter="url(#b35)"/>
<path d="M-6.0 80.0L-4.7 80.5L-3.1 81.2L-1.2 82.1L0.9 83.0L3.2 84.0L5.6 85.0L8.1 86.1L10.5 87.0L12.8 87.9L15.0 88.7L17.0 89.4L18.9 90.0L20.7 90.6L22.6 91.1L24.4 91.6L26.3 92.1L28.3 92.6L30.5 93.1L32.9 93.5L35.6 94.0L38.5 94.5L41.7 95.0L45.1 95.5L48.7 96.0L52.4 96.4L56.1 96.9L59.9 97.3L63.7 97.7L67.4 98.1L71.0 98.4L74.6 98.7L78.2 98.9L81.9 99.1L85.6 99.2L89.3 99.4L92.9 99.5L96.5 99.6L100.0 99.6L103.4 99.7L106.7 99.8L109.8 99.9L112.7 99.9L115.5 100.0L118.2 100.1L120.9 100.1L123.5 100.1L126.2 100.1L129.0 100.1L131.9 100.1L135.0 100.0L138.3 99.9L141.7 99.8L145.1 99.7L148.7 99.6L152.4 99.5L156.0 99.3L159.7 99.1L163.4 98.9L167.0 98.6L170.6 98.2L174.2 97.8L177.8 97.3L181.5 96.7L185.2 96.1L188.8 95.5L192.5 94.8L196.0 94.1L199.5 93.4L202.8 92.7L206.0 92.0L209.1 91.3L212.1 90.5L215.1 89.8L218.0 89.0L220.8 88.2L223.5 87.4L226.0 86.5L228.4 85.7L230.7 84.8L232.8 84.0L234.7 83.2L236.3 82.3L237.8 81.5L239.1 80.7L240.3 79.8L241.5 78.9L242.6 78.0L243.7 77.1L244.8 76.1L246.0 75.0L247.3 73.8L248.7 72.4L250.1 71.0L251.5 69.5L252.8 67.9L254.1 66.5L255.3 65.1L256.4 63.8L257.3 62.8L258.0 62.0" fill="none" stroke="url(#g5)" stroke-width="5.5" filter="url(#b2)"/>
</g></g>
</svg>
<div id="props">
 <div id="phead">
  <div class="tri"></div>
  <svg style="position:absolute;left:27px;top:13px" width="48" height="36" viewBox="0 0 48 36">
<g transform="rotate(-43.5 33.9 13.8)"><ellipse cx="33.9" cy="13.8" rx="14.3" ry="4.9" fill="none" stroke="#be2a54" stroke-width="1.7"/>
<path d="M33.9 8.9A14.3 4.9 0 0 1 48.2 13.8A14.3 4.9 0 0 1 40 18.2" fill="none" stroke="#be2a54" stroke-width="3"/></g>
<path d="M8.3 8.2L23.3 23.8" stroke="#2f91aa" stroke-width="1.3"/>
<path d="M8.3 8.2L12.3 12.4" stroke="#0c0c0c" stroke-width="1.7"/>
<path d="M20.3 20.7L13.2 17.9L17.3 13.6Z" fill="#3a9fb8"/>
<circle cx="23.5" cy="24" r="1.5" fill="#be2a54"/>
<text x="2.4" y="32.5" font-family="Liberation Serif,serif" font-size="10.6" fill="#2f8da6" letter-spacing="0">open</text>
<text x="29.2" y="32.5" font-family="Liberation Serif,serif" font-size="10.4" fill="#b8284f" letter-spacing="-.4">pbr</text>
</svg>
  <div class="ttl">Properties</div>
 </div>
 <div id="pbody">
<div class="lab" style="top:3.5px;right:344.6px;letter-spacing:.42px">multioutput</div>
<div style="position:absolute;left:184px;top:-24.5px;width:216.7px;height:48.5px;box-shadow:inset 0 0 0 1.8px #4c5158;border-radius:7px;background:#22252a;font-size:22px;line-height:41.6px;padding-left:19.7px;color:#fff;overflow:hidden;white-space:nowrap">test_ND_open_pbr</div>
<div style="position:absolute;left:449.5px;top:-30px;width:80px;height:69px;box-shadow:inset 0 0 0 1.8px #5d6169;border-radius:9px;background:#2d2f34"></div>
<svg style="position:absolute;left:463px;top:-7px" width="42" height="30" viewBox="0 0 42 30"><path d="M5 1H36L24 16.7V25.3L17 27.3V16.7Z" fill="none" stroke="#fff" stroke-width="2" stroke-linejoin="round"/></svg>
<div style="position:absolute;left:0;top:55.2px;width:497px;height:1.6px;background:#595c62"></div>
<div class="lab" style="top:65.4px;right:337px">base weight</div>
<div class="trk" style="top:79.6px"></div>
<div class="thm" style="left:191.0px;top:71.6px"></div>
<div class="num" style="top:65.4px">0.6</div>
<div class="lab" style="top:118.0px;right:337px">base color</div>
<div class="cbox" style="top:118.7px"><i><b style="background:#58aedf"></b></i></div>
<div class="lab" style="top:186.4px;right:337px"><span style="letter-spacing:.23px">base diffuse</span><br>roughness</div>
<div class="trk" style="top:201.3px"></div>
<div class="thm" style="left:189.0px;top:193.3px"></div>
<div class="num" style="top:187.1px">0.4</div>
<div class="lab" style="top:252.1px;right:337px">base metalness</div>
<div class="trk" style="top:267.1px"></div>
<div class="thm" style="left:196.0px;top:259.1px"></div>
<div class="num" style="top:252.9px">1</div>
<div class="lab" style="top:305.4px;right:337px">specular weight</div>
<div class="trk" style="top:320.4px"></div>
<div class="thm" style="left:188.7px;top:312.4px"></div>
<div class="num" style="top:306.2px">0.4</div>
<div class="lab" style="top:357.3px;right:337px">specular color</div>
<div class="cbox" style="top:359.3px"><i><b style="background:#bce95a"></b></i></div>
<div class="lab" style="top:425.6px;right:337px">specular<br>roughness</div>
<div class="trk" style="top:441.2px"></div>
<div class="thm" style="left:187.7px;top:433.2px"></div>
<div class="num" style="top:427.0px">0.3</div>
 </div>
 <div id="vscroll"><i></i></div>
</div>
<div id="hscroll"><i></i></div>
<div style="position:absolute;left:1977px;top:243px;width:3px;height:5.5px;background:#7b9db7"></div>
<div style="position:absolute;left:1977px;top:254.5px;width:3px;height:5.5px;background:#7b9db7"></div>
</body>
</html>
